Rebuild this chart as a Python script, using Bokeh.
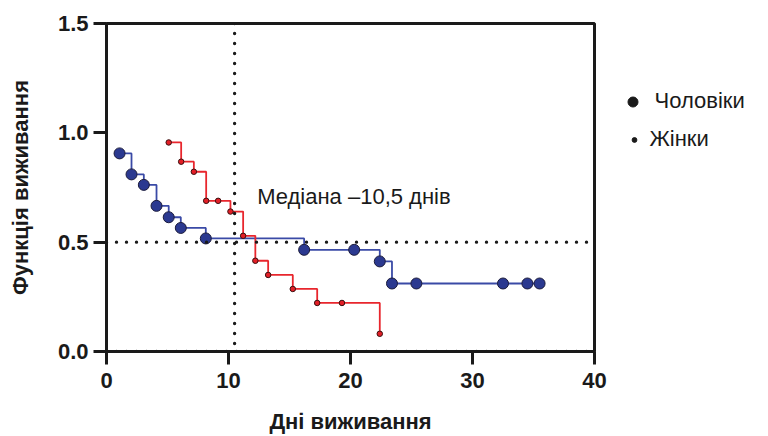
from bokeh.plotting import figure
from bokeh.layouts import row
from bokeh.models import (ColumnDataSource, Span, Label, Legend, LegendItem,
                          FixedTicker, NumeralTickFormatter, Range1d)
from bokeh.embed import file_html
from bokeh.resources import INLINE

# --- data ---
men_days = [1.07, 2.05, 3.06, 4.1, 5.1, 6.09, 8.14, 16.2, 20.3, 22.4, 23.4, 25.4, 32.5, 34.5, 35.5]
men_surv = [0.906, 0.810, 0.762, 0.666, 0.614, 0.565, 0.517, 0.465, 0.465, 0.412, 0.311, 0.311, 0.311, 0.311, 0.311]

women_days = [5.1, 6.12, 7.16, 8.17, 9.15, 10.16, 11.2, 12.2, 13.25, 15.27, 17.27, 19.3, 22.4]
women_surv = [0.956, 0.868, 0.822, 0.689, 0.689, 0.640, 0.529, 0.415, 0.350, 0.286, 0.222, 0.222, 0.081]

median_day = 10.5
median_surv = 0.5
median_label = "Медіана –10,5 днів"
median_label_pos = (12.35, 0.71)

x_ticks = [0, 10, 20, 30, 40]
y_ticks = [0.0, 0.5, 1.0, 1.5]
x_title = "Дні виживання"
y_title = "Функція виживання"
legend_labels = ["Чоловіки", "Жінки"]

FONT = "Liberation Sans"
BLUE_LINE = "#3a4aa6"
BLUE_DOT = "#2b3990"
RED_LINE = "#e8262d"
RED_DOT = "#e31e26"

p = figure(width=614, height=436, output_backend="svg", toolbar_location=None,
           x_range=Range1d(0, 40), y_range=Range1d(0, 1.5),
           min_border_left=106, min_border_top=23, min_border_right=20, min_border_bottom=84)
p.grid.visible = False
p.background_fill_color = "white"
p.border_fill_color = "white"
p.outline_line_color = "#1a1a1a"
p.outline_line_width = 3

for ax in (p.xaxis[0], p.yaxis[0]):
    ax.axis_line_width = 3
    ax.axis_line_color = "#1a1a1a"
    ax.major_tick_line_width = 3
    ax.major_tick_line_color = "#1a1a1a"
    ax.major_tick_out = 13
    ax.major_tick_in = 0
    ax.minor_tick_out = 0
    ax.minor_tick_in = 0
    ax.major_label_text_font = FONT
    ax.major_label_text_font_style = "bold"
    ax.major_label_text_font_size = "22px"
    ax.major_label_text_color = "#1a1a1a"
    ax.axis_label_text_font = FONT
    ax.axis_label_text_font_style = "bold"
    ax.axis_label_text_font_size = "22px"
    ax.axis_label_text_color = "#1a1a1a"

p.xaxis.ticker = FixedTicker(ticks=x_ticks)
p.yaxis.ticker = FixedTicker(ticks=y_ticks)
p.yaxis.formatter = NumeralTickFormatter(format="0.0")
p.xaxis.axis_label = x_title
p.yaxis.axis_label = y_title
p.xaxis.major_label_standoff = 8
p.xaxis.axis_label_standoff = 18
p.yaxis.major_label_standoff = 5
p.yaxis.axis_label_standoff = 22

# dotted reference lines
for loc, dim in ((median_surv, "width"), (median_day, "height"), (0.0, "width")):
    p.add_layout(Span(location=loc, dimension=dim, line_color="#1a1a1a",
                      line_width=3.4, line_dash="0 10", line_cap="round"))

men_src = ColumnDataSource(dict(x=men_days, y=men_surv))
women_src = ColumnDataSource(dict(x=women_days, y=women_surv))

p.step("x", "y", source=men_src, mode="after", line_color=BLUE_LINE, line_width=1.8)
p.step("x", "y", source=women_src, mode="after", line_color=RED_LINE, line_width=1.8)
p.scatter("x", "y", source=men_src, size=11, fill_color=BLUE_DOT, line_color="#1c1c3c", line_width=1)
p.scatter("x", "y", source=women_src, size=5.5, fill_color=RED_DOT, line_color="#3a1010", line_width=1)

p.add_layout(Label(x=median_label_pos[0], y=median_label_pos[1], text=median_label,
                   text_font=FONT, text_font_size="22px", text_color="#1a1a1a",
                   text_baseline="alphabetic"))

# legend figure to the right (black dots; legend marker size = 0.4 * glyph box width)
q = figure(width=154, height=436, output_backend="svg", toolbar_location=None,
           x_range=Range1d(0, 1), y_range=Range1d(0, 1),
           x_axis_location=None, y_axis_location=None,
           min_border_left=0, min_border_right=0, min_border_top=0, min_border_bottom=0)
q.grid.visible = False
q.outline_line_color = None
q.background_fill_color = "white"
q.border_fill_color = "white"
nan = float("nan")
big = q.scatter(x=[nan], y=[nan], size=10, fill_color="#1a1a1a", line_color="#1a1a1a")
small = q.scatter(x=[nan], y=[nan], size=5, fill_color="#1a1a1a", line_color="#1a1a1a")

common = dict(margin=0, padding=0, spacing=0, glyph_height=35, label_height=35,
              label_text_font=FONT, label_text_font_size="22px",
              label_text_color="#1a1a1a", border_line_color=None,
              background_fill_alpha=0)
leg_men = Legend(items=[LegendItem(label=legend_labels[0], renderers=[big])],
                 location=(5.5, 232.5), glyph_width=25, label_standoff=10, **common)
leg_women = Legend(items=[LegendItem(label=legend_labels[1], renderers=[small])],
                   location=(13.5, 194.5), glyph_width=12, label_standoff=10, **common)
q.add_layout(leg_men, "center")
q.add_layout(leg_women, "center")

open("out.html", "w").write(file_html(row(p, q), INLINE))
